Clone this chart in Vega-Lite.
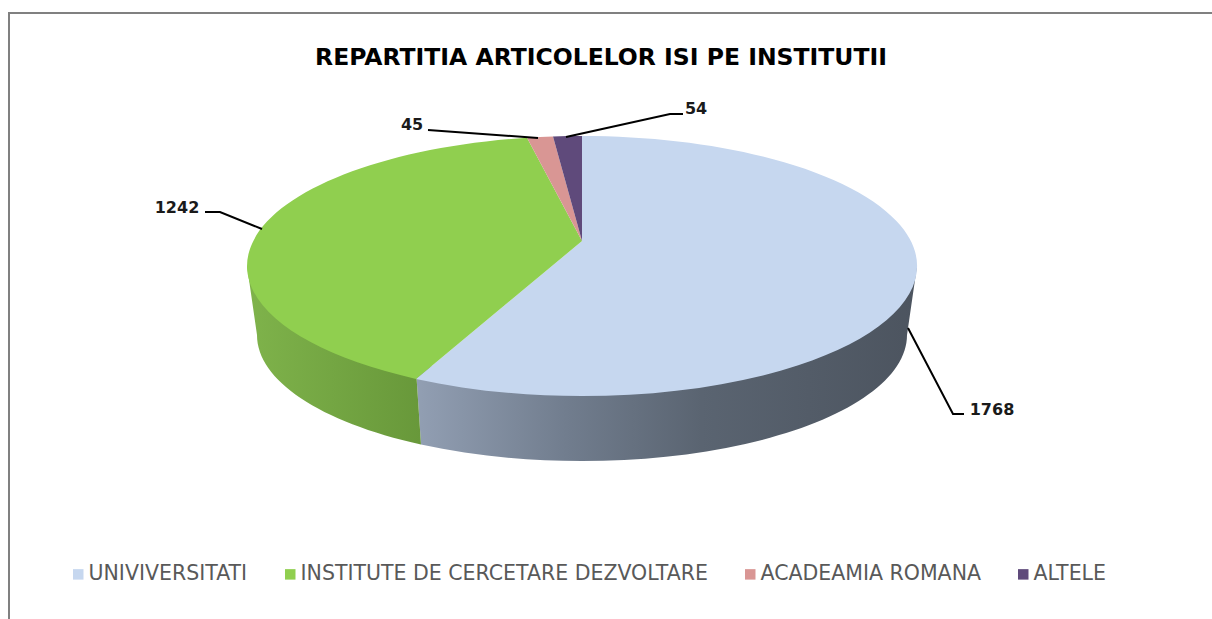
{"$schema":"https://vega.github.io/schema/vega-lite/v6.json","width":1212,"height":619,"padding":0,"autosize":"none","background":"white","view":{"stroke":null},"title":{"text":"REPARTITIA  ARTICOLELOR ISI PE INSTITUTII","font":"DejaVu Sans","fontSize":23.5,"fontWeight":"bold","color":"#000000","anchor":"middle","dx":-5,"offset":-69},"data":{"values":[{"category":"UNIVIVERSITATI","value":1768},{"category":"INSTITUTE DE CERCETARE DEZVOLTARE","value":1242},{"category":"ACADEAMIA ROMANA","value":45},{"category":"ALTELE","value":54}]},"resolve":{"scale":{"shape":"independent"}},"layer":[{"transform":[{"filter":"datum.value==1768"}],"mark":{"type":"point","shape":"M-597 309.5L-597 -296.5L606 -296.5","size":4,"filled":false,"stroke":"#808080","strokeWidth":2,"opacity":1}},{"transform":[{"filter":"datum.value==1768"}],"mark":{"type":"point","shape":"M-190 60L311 -43.5L301 25.5A325 126 0 0 1 -185 135Z","size":4,"filled":true,"opacity":1,"strokeWidth":0,"fill":{"gradient":"linear","x1":0,"y1":0,"x2":1,"y2":0,"stops":[{"offset":0,"color":"#929fb3"},{"offset":0.3,"color":"#717d8e"},{"offset":0.57,"color":"#5a6471"},{"offset":1,"color":"#4c545f"}]}}},{"transform":[{"filter":"datum.value==1242"}],"mark":{"type":"point","shape":"M-359 -43.5L-190 60L-185 135A325 126 0 0 1 -349 25.5Z","size":4,"filled":true,"opacity":1,"strokeWidth":0,"fill":{"gradient":"linear","x1":0,"y1":0,"x2":1,"y2":0,"stops":[{"offset":0,"color":"#7fb34b"},{"offset":1,"color":"#68983a"}]}}},{"mark":{"type":"point","size":4,"filled":true,"opacity":1,"strokeWidth":0},"encoding":{"color":{"field":"category","type":"nominal","scale":{"domain":["UNIVIVERSITATI","INSTITUTE DE CERCETARE DEZVOLTARE","ACADEAMIA ROMANA","ALTELE"],"range":["#c6d7ef","#90cf4f","#d99694","#5f4a7b"]},"legend":{"title":null,"orient":"none","legendX":68,"legendY":564,"direction":"horizontal","columns":4,"columnPadding":32,"symbolType":"square","symbolSize":110,"symbolStrokeWidth":0,"labelFont":"DejaVu Sans","labelFontSize":20.5,"labelColor":"#595959","labelOffset":0,"labelLimit":600}},"shape":{"field":"category","type":"nominal","legend":null,"scale":{"domain":["UNIVIVERSITATI","INSTITUTE DE CERCETARE DEZVOLTARE","ACADEAMIA ROMANA","ALTELE"],"range":["M-24 -68.5L-24 -173.5A335 130 0 1 1 -190 69.4Z","M-24 -68.5L-190 69.4A335 130 0 0 1 -79 -171.74Z","M-24 -68.5L-79 -171.74A335 130 0 0 1 -53 -173.01Z","M-24 -68.5L-53 -173.01A335 130 0 0 1 -24 -173.5Z"]}}}},{"mark":{"type":"point","size":4,"filled":false,"opacity":1,"stroke":"#000000","strokeWidth":2},"encoding":{"shape":{"field":"category","type":"nominal","legend":null,"scale":{"domain":["UNIVIVERSITATI","INSTITUTE DE CERCETARE DEZVOLTARE","ACADEAMIA ROMANA","ALTELE"],"range":["M302 18.5L347 104.5L358 104.5","M-401 -97.5L-386 -97.5L-344 -80.5","M-178 -179.5L-68 -171.5","M-40 -172.5L64 -195.5L77 -195.5"]}}}},{"mark":{"type":"text","font":"DejaVu Sans","fontWeight":"bold","fontSize":16,"color":"#1a1a1a","align":"center","baseline":"middle"},"encoding":{"text":{"field":"value","type":"quantitative","format":"d"},"x":{"field":"value","type":"quantitative","axis":null,"scale":{"domain":[45,54,1242,1768],"range":[412,696,177,992]}},"y":{"field":"value","type":"quantitative","axis":null,"scale":{"domain":[45,54,1242,1768],"range":[125,109,208,410]}}}}]}
